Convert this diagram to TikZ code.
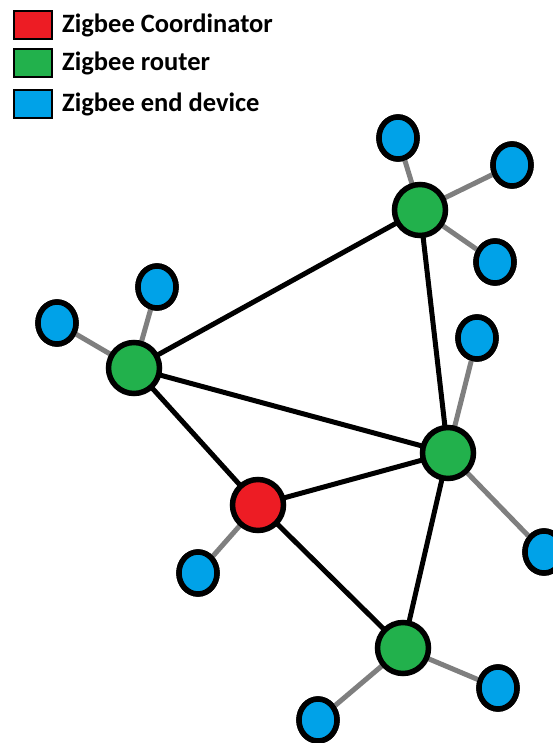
\documentclass[tikz,border=0pt]{standalone}
\usepackage{fontspec}
\setmainfont{Carlito}
\usetikzlibrary{shapes.geometric}
\definecolor{zcoord}{HTML}{ED1C24}
\definecolor{zrouter}{HTML}{22B14C}
\definecolor{zend}{HTML}{00A2E8}
\definecolor{zlink}{HTML}{7F7F7F}
\tikzset{
  coordnode/.style={circle, draw=black, line width=5.5pt, fill=zcoord, minimum size=51pt, inner sep=0pt},
  routernode/.style={circle, draw=black, line width=5.5pt, fill=zrouter, minimum size=51pt, inner sep=0pt},
  enddev/.style={ellipse, draw=black, line width=5.5pt, fill=zend, minimum width=38pt, minimum height=42pt, inner sep=0pt},
  mesh/.style={line width=5pt, black},
  leaf/.style={line width=5pt, zlink},
  keybox/.style={draw=black, line width=1.5pt, minimum width=38pt, minimum height=28pt, inner sep=0pt},
  keytext/.style={anchor=west, inner sep=0pt, font=\fontsize{26.5}{30}\selectfont\bfseries},
}
\begin{document}
\begin{tikzpicture}[x=1pt, y=-1pt]
\useasboundingbox (0,0) rectangle (553,743);
% legend
\node[keybox, fill=zcoord]  (kc) at (33,25) {};
\node[keybox, fill=zrouter] (kr) at (33,63) {};
\node[keybox, fill=zend]    (ke) at (33,104) {};
\node[keytext] (tc) at (62,25) {Zigbee Coordinator};
\node[keytext] (tr) at (62,63) {Zigbee router};
\node[keytext] (te) at (62,104) {Zigbee end device};
% coordinates of the network nodes
\coordinate (pRt) at (420,210);
\coordinate (pRl) at (134,368);
\coordinate (pRr) at (448,453);
\coordinate (pRb) at (403,648);
\coordinate (pC)  at (258,505);
% links between coordinator and routers
\draw[mesh] (pRt) -- (pRl);
\draw[mesh] (pRt) -- (pRr);
\draw[mesh] (pRl) -- (pRr);
\draw[mesh] (pRl) -- (pC);
\draw[mesh] (pC) -- (pRr);
\draw[mesh] (pC) -- (pRb);
\draw[mesh] (pRr) -- (pRb);
% end devices
\node[enddev] (e1) at (398,138) {};
\node[enddev] (e2) at (512,165) {};
\node[enddev] (e3) at (495,262) {};
\node[enddev] (e4) at (57,323) {};
\node[enddev] (e5) at (157,287) {};
\node[enddev] (e6) at (477,338) {};
\node[enddev] (e7) at (544,552) {};
\node[enddev] (e8) at (198,573) {};
\node[enddev] (e9) at (318,720) {};
\node[enddev] (e10) at (498,688) {};
% end device links
\draw[leaf] (pRt) -- (e1);
\draw[leaf] (pRt) -- (e2);
\draw[leaf] (pRt) -- (e3);
\draw[leaf] (pRl) -- (e4);
\draw[leaf] (pRl) -- (e5);
\draw[leaf] (pRr) -- (e6);
\draw[leaf] (pRr) -- (e7);
\draw[leaf] (pC) -- (e8);
\draw[leaf] (pRb) -- (e9);
\draw[leaf] (pRb) -- (e10);
% redraw end devices above their links
\foreach \e in {e1,e2,e3,e4,e5,e6,e7,e8,e9,e10}
  \node[enddev] at (\e) {};
% routers and coordinator
\node[routernode] (rt) at (pRt) {};
\node[routernode] (rl) at (pRl) {};
\node[routernode] (rr) at (pRr) {};
\node[routernode] (rb) at (pRb) {};
\node[coordnode]  (co) at (pC) {};
\end{tikzpicture}
\end{document}
